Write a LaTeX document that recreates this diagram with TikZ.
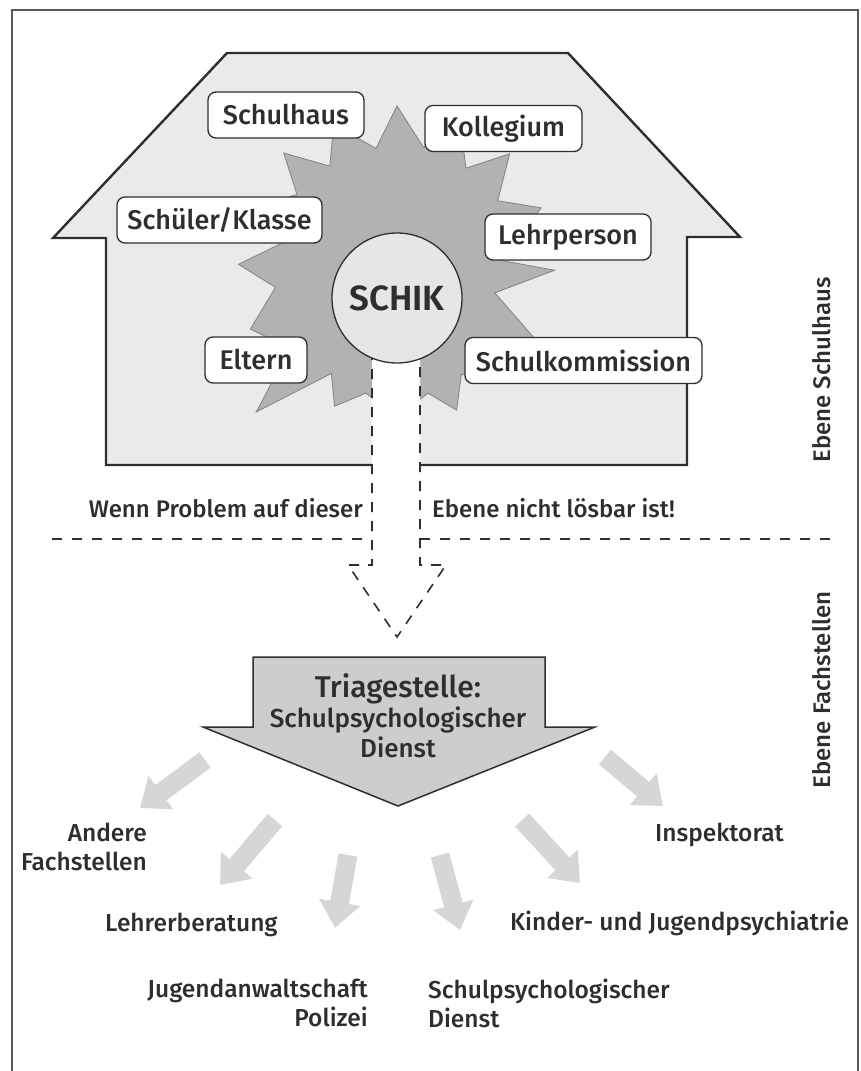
\documentclass[tikz,border=0pt]{standalone}
\usepackage{fontspec}
\setmainfont{Fira Sans}[UprightFont=* Medium, BoldFont=* SemiBold]
\usetikzlibrary{arrows.meta}

\definecolor{ink}{HTML}{2E2E2E}
\definecolor{housegray}{HTML}{EAEAEA}
\definecolor{stargray}{HTML}{B2B2B2}
\definecolor{circlegray}{HTML}{E6E6E6}
\definecolor{triagegray}{HTML}{CDCDCD}
\definecolor{arrowgray}{HTML}{D6D6D6}

\tikzset{
  frame/.style={draw=ink!80, line width=1.2pt},
  house/.style={fill=housegray, draw=ink, line width=2.4pt},
  starshape/.style={fill=stargray, draw=ink!60, line width=0.8pt, line join=miter},
  shaft/.style={fill=white, draw=ink, line width=1.6pt, dash pattern=on 10pt off 9pt},
  sepline/.style={draw=ink, line width=1.8pt, dash pattern=on 10pt off 10pt},
  labelbox/.style={draw=ink, fill=white, rounded corners=8pt, line width=1.3pt,
    minimum height=46pt, inner sep=0pt, text=ink, font=\fontsize{27}{32}\selectfont},
  plaintext/.style={inner sep=0pt, text=ink, font=\fontsize{24.5}{29}\selectfont},
  fatarrow/.style={arrowgray, line width=19pt, -{Triangle[width=40pt,length=26pt]}}
}

\begin{document}
\begin{tikzpicture}[x=1pt, y=-1pt]
  \useasboundingbox (0,0) rectangle (861,1071);

  % draw frame
  \draw[frame] (12,1071) -- (12,10) -- (858,10) -- (858,1071);

  % draw house (open at the shaft)
  \path[house] (372,465) -- (106,465) -- (106,238) -- (53,238) -- (227,53)
    -- (568,53) -- (740,237) -- (687,237) -- (687,465) -- (420,465);

  % draw star
  \begin{scope}[shift={(397,298)}, yscale=-1]
    \draw[starshape] (3:98)
      \foreach \a/\r in {10/160, 20/110, 32/170, 44/140, 52/183, 62/147, 70/185,
        80/153, 90/192, 98/151, 110/185, 117/148, 128/184, 134/144, 150/175,
        153/125, 168/162, 175/122, 192/150, 205/118, 219/181, 229/100, 240/125,
        252/100, 270/120, 288/100, 298/127, 310/100, 320/120, 330/110, 342/150}
      { -- (\a:\r) } -- cycle;
  \end{scope}

  % draw dashed arrow from SCHIK down
  \coordinate (shaftl) at (372,350);
  \coordinate (shaftr) at (420,350);
  \coordinate (tip) at (397,637);
  \path[shaft] (shaftl) -- (372,565) -- (348,565) -- (tip) -- (446,565)
    -- (420,565) -- (shaftr);

  % draw nodes of the school level
  \node[circle, draw=ink, fill=circlegray, line width=1.3pt, minimum size=130pt,
    text=ink, font=\bfseries\fontsize{35}{40}\selectfont] (schik) at (397,298) {SCHIK};
  \node[labelbox, minimum width=156pt] (schulhaus) at (286,115) {Schulhaus};
  \node[labelbox, minimum width=157pt] (kollegium) at (503.5,128.5) {Kollegium};
  \node[labelbox, minimum width=205pt] (schueler) at (219.5,220) {Schüler/Klasse};
  \node[labelbox, minimum width=166pt] (lehrperson) at (568,237) {Lehrperson};
  \node[labelbox, minimum width=102pt] (eltern) at (256,360) {Eltern};
  \node[labelbox, minimum width=237pt] (kommission) at (583.5,360.5) {Schulkommission};

  % draw horizontal line
  \draw[sepline] (52,539) -- (372,539);
  \draw[sepline] (420,539) -- (832,539);

  \node[plaintext, anchor=base east, font=\fontsize{24}{28}\selectfont] (wenn) at (363,517) {Wenn Problem auf dieser};
  \node[plaintext, anchor=base west, font=\fontsize{24}{28}\selectfont] (ebene) at (432,517) {Ebene nicht lösbar ist!};

  % draw side labels
  \node[plaintext, rotate=90, font=\fontsize{24}{28}\selectfont] (levelschool) at (822,370) {Ebene Schulhaus};
  \node[plaintext, rotate=90, font=\fontsize{24}{28}\selectfont] (levelexpert) at (822,690) {Ebene Fachstellen};

  % draw triage arrow
  \draw[fill=triagegray, draw=ink, line width=1.5pt] (253,657) -- (545,657) -- (545,727)
    -- (595,727) -- (398,806) -- (203,727) -- (253,727) -- cycle;
  \node[plaintext, align=center, font=\fontsize{26}{30}\selectfont] (triage) at (398,716)
    {{\fontsize{30}{32}\selectfont Triagestelle:}\\Schulpsychologischer\\Dienst};

  % draw grey arrows
  \foreach \n/\sx/\sy/\ex/\ey in {1/205/760/140/808, 2/275/820/220/885, 3/348/855/335/928,
      4/440/855/460/930, 5/522/820/580/883, 6/605/757/663/806} {
    \coordinate (from\n) at (\sx,\sy);
    \coordinate (to\n) at (\ex,\ey);
    \draw[fatarrow] (from\n) -- (to\n);
  }

  % draw nodes of the expert level
  \node[plaintext, align=right, anchor=east] (andere) at (147,847) {Andere\\Fachstellen};
  \node[plaintext, anchor=west] (inspektorat) at (655,835) {Inspektorat};
  \node[plaintext, anchor=west] (lehrer) at (105,925) {Lehrerberatung};
  \node[plaintext, anchor=west] (kinder) at (510,923) {Kinder- und Jugendpsychiatrie};
  \node[plaintext, align=right, anchor=east] (jugend) at (368,1003) {Jugendanwaltschaft\\Polizei};
  \node[plaintext, align=left, anchor=west] (dienst) at (428,1003) {Schulpsychologischer\\Dienst};
\end{tikzpicture}
\end{document}
